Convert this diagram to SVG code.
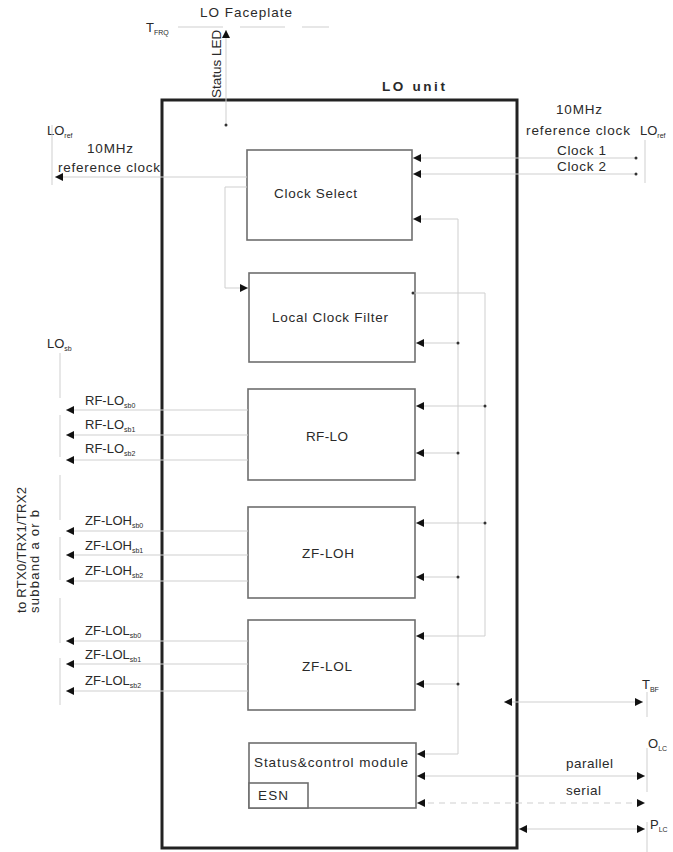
<svg xmlns="http://www.w3.org/2000/svg" width="673" height="852" viewBox="0 0 673 852">
<style>
text{font-family:"Liberation Sans",Arial,sans-serif;fill:#2a2a2a;font-size:13.5px}
.sm{font-size:13px}
.sub{font-size:7px}
.blk{fill:#fff;stroke:#6e6e6e;stroke-width:1.6}
.ln{fill:none;stroke:#cfcfcf;stroke-width:1}
.dl{fill:none;stroke:#cfcfcf;stroke-width:1;stroke-dasharray:6 5}
.dot{fill:#333}
</style>
<defs>
<marker id="a" viewBox="0 0 8 8" refX="8" refY="4" markerWidth="8" markerHeight="8" markerUnits="userSpaceOnUse" orient="auto-start-reverse">
<path d="M0,0 L8,4 L0,8 z" fill="#111"/>
</marker>
</defs>

<g id="lo-unit">
<rect x="162" y="100" width="355" height="748" fill="none" stroke="#222" stroke-width="3"/>
<text x="382" y="91" font-weight="bold" font-size="17" textLength="63">LO unit</text>
</g>

<g id="faceplate">
<text x="200" y="17" textLength="92">LO Faceplate</text>
<text x="146" y="32" class="sm">T<tspan class="sub" dy="3">FRQ</tspan></text>
<path class="ln" d="M178 27 H223 M240 27 H285 M302 27 H329"/>
<text transform="translate(221,98) rotate(-90)" font-size="8" fill="#444">Status LED</text>
</g>

<g id="clock-select">
<rect class="blk" x="247" y="150" width="165" height="90"/>
<text x="274" y="198" textLength="83">Clock Select</text>
</g>

<g id="local-clock-filter">
<rect class="blk" x="249" y="273" width="166" height="89"/>
<text x="272" y="322" textLength="116">Local Clock Filter</text>
</g>

<g id="rf-lo">
<rect class="blk" x="248" y="389" width="167" height="91"/>
<text x="306" y="441" textLength="42">RF-LO</text>
</g>

<g id="zf-loh">
<rect class="blk" x="248" y="507" width="167" height="91"/>
<text x="302" y="558" textLength="52">ZF-LOH</text>
</g>

<g id="zf-lol">
<rect class="blk" x="248" y="620" width="167" height="90"/>
<text x="302" y="671" textLength="50">ZF-LOL</text>
</g>

<g id="status-control">
<rect class="blk" x="249" y="743" width="167" height="65"/>
<rect class="blk" x="249" y="783" width="59" height="25"/>
<text x="254" y="767" font-size="12.5" textLength="154">Status&amp;control module</text>
<text x="258" y="800" font-size="12.5" textLength="30">ESN</text>
</g>

<g id="labels">
<text x="47" y="135" class="sm">LO<tspan class="sub" dy="3">ref</tspan></text>
<text x="87" y="153" textLength="46">10MHz</text>
<text x="58" y="172" textLength="102">reference clock</text>
<text x="556" y="114" textLength="46">10MHz</text>
<text x="526" y="135" textLength="104">reference clock</text>
<text x="640" y="135" class="sm">LO<tspan class="sub" dy="3">ref</tspan></text>
<text x="557" y="155" textLength="49">Clock 1</text>
<text x="557" y="171" textLength="49">Clock 2</text>
<text x="47" y="348" class="sm">LO<tspan class="sub" dy="3">sb</tspan></text>
<text x="85" y="405" class="sm">RF-LO<tspan class="sub" dy="3">sb0</tspan></text>
<text x="85" y="429" class="sm">RF-LO<tspan class="sub" dy="3">sb1</tspan></text>
<text x="85" y="453" class="sm">RF-LO<tspan class="sub" dy="3">sb2</tspan></text>
<text x="85" y="525" class="sm">ZF-LOH<tspan class="sub" dy="3">sb0</tspan></text>
<text x="85" y="550" class="sm">ZF-LOH<tspan class="sub" dy="3">sb1</tspan></text>
<text x="85" y="575" class="sm">ZF-LOH<tspan class="sub" dy="3">sb2</tspan></text>
<text x="85" y="635" class="sm">ZF-LOL<tspan class="sub" dy="3">sb0</tspan></text>
<text x="85" y="659" class="sm">ZF-LOL<tspan class="sub" dy="3">sb1</tspan></text>
<text x="85" y="685" class="sm">ZF-LOL<tspan class="sub" dy="3">sb2</tspan></text>
<text transform="translate(26,613) rotate(-90)" class="sm" textLength="126">to RTX0/TRX1/TRX2</text>
<text transform="translate(39,613) rotate(-90)" class="sm" textLength="103">subband a or b</text>
<text x="642" y="689" class="sm">T<tspan class="sub" dy="3">BF</tspan></text>
<text x="648" y="748" class="sm">O<tspan class="sub" dy="3">LC</tspan></text>
<text x="566" y="768" textLength="47">parallel</text>
<text x="566" y="795" textLength="35">serial</text>
<text x="650" y="829" class="sm">P<tspan class="sub" dy="3">LC</tspan></text>
</g>

<g id="connectors">
<path class="ln" d="M226 125 V30" marker-end="url(#a)"/>
<circle class="dot" cx="226" cy="125" r="1.5"/>
<path class="ln" d="M247 177 H55" marker-end="url(#a)"/>
<path class="ln" d="M52 125 V185"/>
<path class="ln" d="M247 187 H225 V288 H248" marker-end="url(#a)"/>
<path class="ln" d="M636 158 H413" marker-end="url(#a)"/>
<path class="ln" d="M636 174 H413" marker-end="url(#a)"/>
<circle class="dot" cx="636" cy="158" r="1.5"/>
<circle class="dot" cx="636" cy="174" r="1.5"/>
<path class="ln" d="M645 140 V183"/>
<path class="ln" d="M458 754 V219 H413" marker-end="url(#a)"/>
<path class="ln" d="M458 754 H417" marker-end="url(#a)"/>
<path class="ln" d="M458 343 H416" marker-end="url(#a)"/>
<path class="ln" d="M458 453 H416" marker-end="url(#a)"/>
<path class="ln" d="M458 577 H416" marker-end="url(#a)"/>
<path class="ln" d="M458 684 H416" marker-end="url(#a)"/>
<circle class="dot" cx="458" cy="343" r="1.5"/>
<circle class="dot" cx="458" cy="453" r="1.5"/>
<circle class="dot" cx="458" cy="577" r="1.5"/>
<circle class="dot" cx="458" cy="684" r="1.5"/>
<path class="ln" d="M413 293 H485 V636 H416" marker-end="url(#a)"/>
<path class="ln" d="M485 406 H416" marker-end="url(#a)"/>
<path class="ln" d="M485 523 H416" marker-end="url(#a)"/>
<circle class="dot" cx="413" cy="293" r="1.5"/>
<circle class="dot" cx="485" cy="406" r="1.5"/>
<circle class="dot" cx="485" cy="523" r="1.5"/>
<path class="ln" d="M248 410 H66" marker-end="url(#a)"/>
<path class="ln" d="M248 435 H66" marker-end="url(#a)"/>
<path class="ln" d="M248 460 H66" marker-end="url(#a)"/>
<path class="ln" d="M248 531 H66" marker-end="url(#a)"/>
<path class="ln" d="M248 555 H66" marker-end="url(#a)"/>
<path class="ln" d="M248 581 H66" marker-end="url(#a)"/>
<path class="ln" d="M248 641 H66" marker-end="url(#a)"/>
<path class="ln" d="M248 664 H66" marker-end="url(#a)"/>
<path class="ln" d="M248 691 H66" marker-end="url(#a)"/>
<path class="ln" d="M60 353 V398 M60 415 V457 M60 475 V520 M60 537 V580 M60 598 V643 M60 658 V705"/>
<path class="ln" d="M504 702 H643" marker-start="url(#a)" marker-end="url(#a)"/>
<path class="ln" d="M647 692 V717"/>
<path class="ln" d="M417 776 H645" marker-start="url(#a)" marker-end="url(#a)"/>
<path class="dl" d="M417 803 H645" marker-start="url(#a)" marker-end="url(#a)"/>
<path class="ln" d="M647 748 V792"/>
<path class="ln" d="M519 829 H645" marker-start="url(#a)" marker-end="url(#a)"/>
<path class="ln" d="M647 822 V852"/>
</g>
</svg>
